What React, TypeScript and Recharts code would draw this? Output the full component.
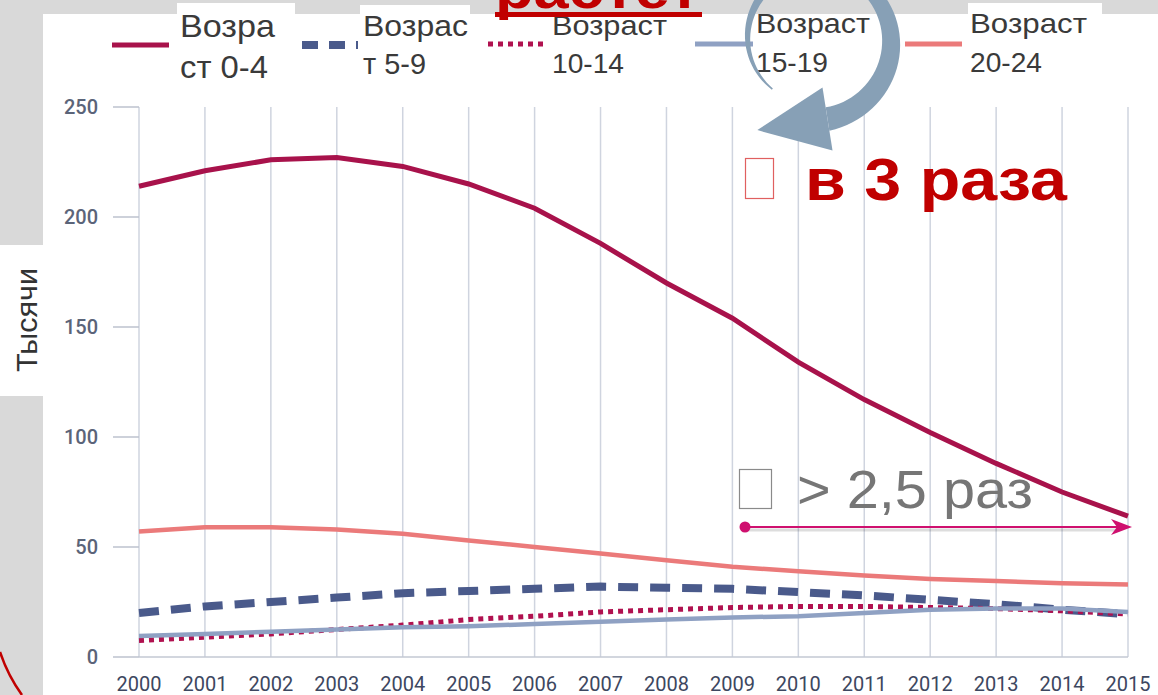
import { LineChart, Line, XAxis, YAxis, CartesianGrid, Legend } from 'recharts'

// годы и численность по возрастным группам, тысячи
const years = ['2000', '2001', '2002', '2003', '2004', '2005', '2006', '2007', '2008', '2009', '2010', '2011', '2012', '2013', '2014', '2015']
const age0_4 = [214, 221, 226, 227, 223, 215, 204, 188, 170, 154, 134, 117, 102, 88, 75, 64]
const age5_9 = [20, 23, 25, 27, 29, 30, 31, 32, 31.5, 31, 29.5, 28, 26, 24, 21.5, 19.5]
const age10_14 = [7.5, 9, 10.5, 12.5, 14.5, 17, 18.5, 20.5, 21.5, 22.5, 23, 23, 22.5, 22, 21, 19.5]
const age15_19 = [9.5, 10.5, 11.5, 12.5, 13.5, 14, 15, 16, 17, 18, 18.5, 20, 21.5, 22, 22, 20.5]
const age20_24 = [57, 59, 59, 58, 56, 53, 50, 47, 44, 41, 39, 37, 35.5, 34.5, 33.5, 33]
const yTicks = [0, 50, 100, 150, 200, 250]

const legendLabels: Record<string, string[]> = {
  age0_4: ['Возра', 'ст 0-4'],
  age5_9: ['Возрас', 'т 5-9'],
  age10_14: ['Возраст', '10-14'],
  age15_19: ['Возраст', '15-19'],
  age20_24: ['Возраст', '20-24'],
}

const data = years.map((year, i) => ({
  year,
  age0_4: age0_4[i],
  age5_9: age5_9[i],
  age10_14: age10_14[i],
  age15_19: age15_19[i],
  age20_24: age20_24[i],
}))

const W = 1158
const H = 695

const series = [
  { key: 'age0_4', color: '#a8124b', width: 5, dash: undefined as string | undefined },
  { key: 'age5_9', color: '#4a5a8b', width: 8, dash: '20 12' },
  { key: 'age10_14', color: '#b0114f', width: 5, dash: '5 5' },
  { key: 'age15_19', color: '#8fa1c3', width: 4.5, dash: undefined },
  { key: 'age20_24', color: '#eb7a7a', width: 4.5, dash: undefined },
]

// где стоит каждый пункт легенды на слайде
const legendPos: Record<string, any> = {
  age0_4: { x1: 112, x2: 169, y: 45, tx: 180, b1: 37, b2: 78, fs: 32, w1: 95, w2: 88, box: [177, 3, 118, 80] },
  age5_9: { x1: 302, x2: 358, y: 45, tx: 363, b1: 36, b2: 74, fs: 29, w1: 105, w2: 63, box: [360, 5, 110, 78] },
  age10_14: { x1: 488, x2: 547, y: 44, tx: 552, b1: 35, b2: 73, fs: 28, w1: 115, w2: 72, box: null },
  age15_19: { x1: 695, x2: 753, y: 44, tx: 756, b1: 33, b2: 72, fs: 28, w1: 114, w2: 72, box: null },
  age20_24: { x1: 905, x2: 962, y: 44, tx: 970, b1: 33, b2: 72, fs: 28, w1: 117, w2: 72, box: [968, 3, 134, 80] },
}

const renderLegend = (props: any) => {
  const payload = props.payload || []
  return (
    <svg width={W} height={100} style={{ position: 'absolute', left: 0, top: 0, overflow: 'visible' }}>
      {payload.map((entry: any) => {
        const p = legendPos[entry.dataKey]
        const s = series.find(x => x.key === entry.dataKey)
        if (!p || !s) return null
        const [l1, l2] = legendLabels[entry.dataKey]
        return (
          <g key={entry.dataKey}>
            {p.box && <rect x={p.box[0]} y={p.box[1]} width={p.box[2]} height={p.box[3]} fill="#fff" />}
            <line x1={p.x1} x2={p.x2} y1={p.y} y2={p.y} stroke={s.color} strokeWidth={s.key === 'age5_9' ? 8 : 5} strokeDasharray={s.key === 'age5_9' ? '16 11' : s.dash} />
            <text x={p.tx} y={p.b1} fontSize={p.fs} fill="#3a3a3a" fontFamily="Liberation Sans, Arial" textLength={p.w1} lengthAdjust="spacingAndGlyphs">{l1}</text>
            <text x={p.tx} y={p.b2} fontSize={p.fs} fill="#3a3a3a" fontFamily="Liberation Sans, Arial" textLength={p.w2} lengthAdjust="spacingAndGlyphs">{l2}</text>
          </g>
        )
      })}
    </svg>
  )
}

function curvedArrow() {
  const cx = 815, cy = 40
  const a0 = 131, a1 = 441
  const outer: string[] = []
  const inner: string[] = []
  const n = 80
  for (let i = 0; i <= n; i++) {
    const t = i / n
    const a = ((a0 + (a1 - a0) * t) * Math.PI) / 180
    const r = 65 + 15 * t
    const hw = 0.8 + 11 * t
    outer.push(`${cx + (r + hw) * Math.cos(a)},${cy + (r + hw) * Math.sin(a)}`)
    inner.push(`${cx + (r - hw) * Math.cos(a)},${cy + (r - hw) * Math.sin(a)}`)
  }
  const body = `M${outer.join(' L')} L${inner.reverse().join(' L')} Z`
  const ae = (a1 * Math.PI) / 180
  const bx = cx + 80 * Math.cos(ae)
  const by = cy + 80 * Math.sin(ae)
  const nx = Math.cos(ae), ny = Math.sin(ae)
  const tx = -Math.sin(ae), ty = Math.cos(ae)
  const head = `M${bx + 32 * nx},${by + 32 * ny} L${bx + 71 * tx},${by + 71 * ty} L${bx - 32 * nx},${by - 32 * ny} Z`
  return { body, head }
}

export default function App() {
  const arrow = curvedArrow()
  return (
    <div style={{ position: 'absolute', left: 0, top: 0, width: W, height: H, background: '#d9d9d9', overflow: 'hidden' }}>
      <div style={{ position: 'absolute', left: 43, top: 14, right: 0, bottom: 0, background: '#fff' }} />

      <div style={{ position: 'absolute', left: 0, top: 0 }}>
        <LineChart width={W} height={H} data={data} margin={{ top: 107, right: 30, bottom: 8, left: 79 }}>
          <CartesianGrid vertical horizontal={false} stroke="#cfd4df" strokeWidth={1.5} />
          <XAxis
            dataKey="year"
            interval={0}
            height={30}
            tickLine={false}
            tickMargin={14}
            axisLine={{ stroke: '#c3c8d3', strokeWidth: 1.5 }}
            tick={{ fill: '#3d4760', fontSize: 20, fontFamily: 'Roboto' }}
          />
          <YAxis
            width={60}
            domain={[0, 250]}
            ticks={yTicks}
            axisLine={false}
            tickSize={26}
            tickMargin={15}
            tickLine={{ stroke: '#bcc2ce', strokeWidth: 1.5 }}
            tick={{ fill: '#5b6479', fontSize: 20, fontWeight: 500, fontFamily: 'Roboto' }}
          />
          <Legend content={renderLegend} wrapperStyle={{ left: 0, top: 0, width: 0, height: 0, margin: 0 }} />
          {series.map(s => (
            <Line
              key={s.key}
              dataKey={s.key}
              type="linear"
              stroke={s.color}
              strokeWidth={s.width}
              strokeDasharray={s.dash}
              dot={false}
              activeDot={false}
              isAnimationActive={false}
            />
          ))}
        </LineChart>
      </div>

      <svg width={W} height={H} style={{ position: 'absolute', left: 0, top: 0, pointerEvents: 'none' }}>
        {/* заголовок, почти срезан сверху */}
        <text x={495} y={8} fontSize={56} fontWeight={700} fill="#c00000" fontFamily="Liberation Sans, Arial" textLength={205} lengthAdjust="spacingAndGlyphs">растет</text>
        <rect x={495} y={12} width={207} height={5} fill="#c00000" />

        <path d={arrow.body} fill="#87a0b6" />
        <path d={arrow.head} fill="#87a0b6" />

        <rect x={745.5} y={158.5} width={28} height={40} fill="none" stroke="#e06060" strokeWidth={1.2} />
        <text x={805} y={200} fontSize={60} fontWeight={700} fill="#c00000" fontFamily="Liberation Sans, Arial" textLength={262} lengthAdjust="spacingAndGlyphs">в 3 раза</text>

        <rect x={739.5} y={469.5} width={32} height={39} fill="none" stroke="#8a8a8a" strokeWidth={1.2} />
        <text x={797} y={508} fontSize={54} fill="#767676" fontFamily="Liberation Sans, Arial" textLength={236} lengthAdjust="spacingAndGlyphs">&gt; 2,5 раз</text>

        <line x1={747} x2={1120} y1={530} y2={530} stroke="#00000022" strokeWidth={3} />
        <line x1={745} x2={1120} y1={527} y2={527} stroke="#cf106f" strokeWidth={2} />
        <circle cx={745} cy={527} r={5.5} fill="#cf106f" />
        <path d="M1132,527 L1111,519 L1117,527 L1111,535 Z" fill="#cf106f" />

        <rect x={0} y={245} width={44} height={151} fill="#fff" />
        <text x={37} y={320} fontSize={30} fill="#333" fontFamily="Liberation Sans, Arial" textAnchor="middle" textLength={104} lengthAdjust="spacingAndGlyphs" transform="rotate(-90 37 320)">Тысячи</text>

        <path d="M0,652 Q8,676 22,695" fill="none" stroke="#c00000" strokeWidth={2.5} />
      </svg>
    </div>
  )
}
